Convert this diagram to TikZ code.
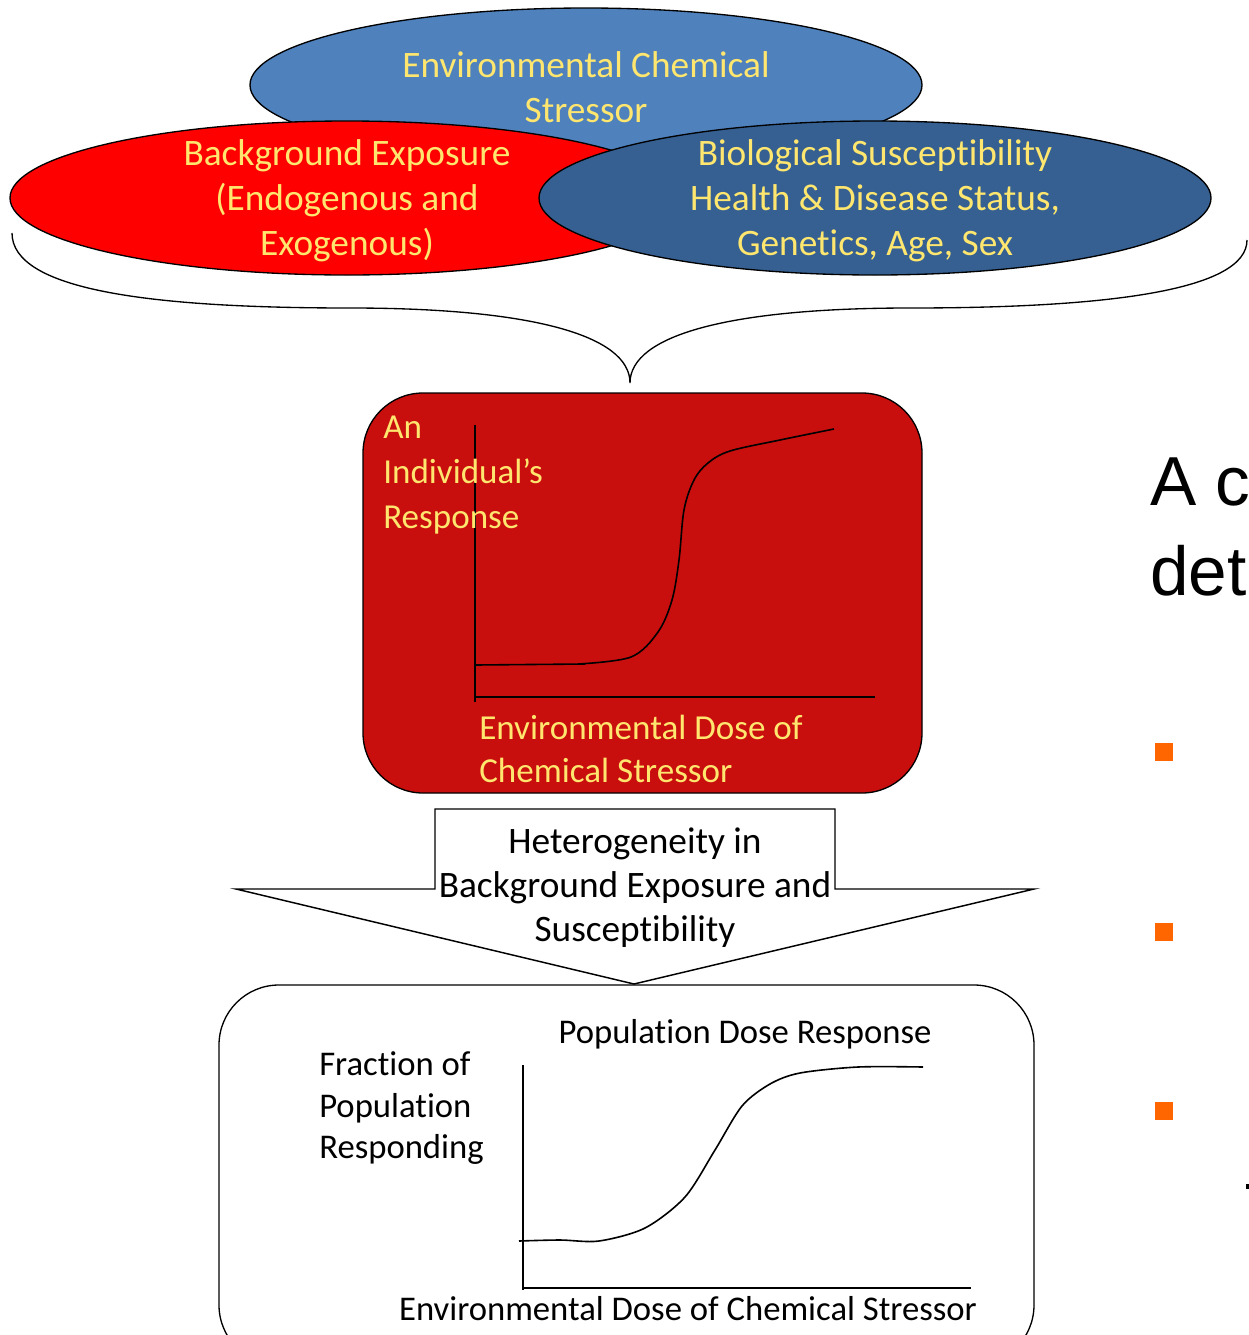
\documentclass[tikz,border=0pt]{standalone}
\usepackage{fontspec}
\setmainfont[Ligatures=NoCommon]{Carlito}
\newfontfamily\arialf{Liberation Sans}
\definecolor{topblue}{RGB}{79,129,189}
\definecolor{darkblue}{RGB}{54,96,146}
\definecolor{brightred}{RGB}{255,0,0}
\definecolor{boxred}{RGB}{201,14,14}
\definecolor{paleyellow}{RGB}{255,230,110}
\definecolor{bulletorange}{RGB}{255,102,0}
\tikzset{
  ell/.style={draw=black, line width=1pt},
  ytext/.style={text=paleyellow, font=\fontsize{28}{33.75}\selectfont, align=center, inner sep=0pt},
  ltext/.style={text=paleyellow, font=\fontsize{26.3}{33.5}\selectfont, align=left, inner sep=0pt, anchor=base west},
  btext/.style={text=black, font=\fontsize{26}{31.5}\selectfont, inner sep=0pt},
  axis/.style={draw=black, line width=1.2pt},
  curve/.style={draw=black, line width=1.2pt},
}
\begin{document}
\begin{tikzpicture}[x=0.75pt,y=-0.75pt]
\useasboundingbox (0,0) rectangle (1249,1335);
\clip (0,0) rectangle (1249,1335);
% ellipses
\path[ell, fill=topblue] (586,85) ellipse [x radius=336, y radius=77];
\node[ytext] (ecs) at (586,87) {Environmental Chemical\\Stressor};
\path[ell, fill=brightred] (347,198) ellipse [x radius=337, y radius=77];
\node[ytext] (bge) at (347,201) {Background Exposure\\(Endogenous and\\Exogenous)};
\path[ell, fill=darkblue] (875,198) ellipse [x radius=336, y radius=77];
\node[ytext] (bio) at (875,201) {Biological Susceptibility\\Health \& Disease Status,\\Genetics, Age, Sex};
% brace
\coordinate (bl) at (12,233);
\coordinate (btip) at (630,383);
\coordinate (br) at (1247,240);
\draw[line width=1pt] (bl) .. controls (12,290) and (150,308) .. (350,308)
  .. controls (530,308) and (630,335) .. (btip)
  .. controls (630,335) and (730,308) .. (910,308)
  .. controls (1110,308) and (1247,290) .. (br);
% red box
\node[draw=black, line width=1pt, fill=boxred, rounded corners=45pt, minimum width=559*0.75pt, minimum height=400*0.75pt] (ind) at (642.5,593) {};
\draw[axis] (475,425) -- (475,702);
\draw[axis] (475,697) -- (875,697);
\draw[curve] (475,665) -- (585,664);
\draw[curve] plot[smooth, tension=0.55] coordinates {(578,664) (631,657) (658,632) (672,600) (679,560) (684,510) (694,480) (708,463) (730,451) (780,440) (834,429)};
\node[ltext] (resp) at (383,438) {An};
\node[ltext] at (383,483) {Individual’s};
\node[ltext] at (383,528) {Response};
\node[ltext] (dose1) at (479,739) {Environmental Dose of};
\node[ltext] at (479,782) {Chemical Stressor};
% heterogeneity arrow
\draw[line width=1.1pt, fill=white] (435,809) -- (835,809) -- (835,889) -- (1034,889) -- (634,984) -- (236,889) -- (435,889) -- cycle;
\node[btext, font=\fontsize{28}{33}\selectfont, align=center] (het) at (635,888) {Heterogeneity in\\Background Exposure and\\Susceptibility};
% bottom box
\node[draw=black, line width=1pt, fill=white, rounded corners=45pt, minimum width=815*0.75pt, minimum height=380*0.75pt] (pop) at (626.5,1175) {};
\draw[axis] (523,1065) -- (523,1290);
\draw[axis] (523,1288) -- (971,1288);
\draw[curve] plot[smooth, tension=0.5] coordinates {(519,1241) (560,1240) (599,1241) (645,1228) (685,1197) (715,1150) (742,1106) (770,1084) (800,1073) (858,1067) (923,1067)};
\node[btext, anchor=base] (pdr) at (745,1043) {Population Dose Response};
\node[btext, anchor=base west] (frac) at (319,1075) {Fraction of};
\node[btext, anchor=base west] at (319,1117) {Population};
\node[btext, anchor=base west] at (319,1158) {Responding};
\node[btext, anchor=base] (dose2) at (688,1320) {Environmental Dose of Chemical Stressor};
% right side text
\node[font=\arialf\fontsize{52}{67}\selectfont, anchor=base west, inner sep=0pt] (ac) at (1150,505) {A c};
\node[font=\arialf\fontsize{52}{67}\selectfont, anchor=base west, inner sep=0pt] (det) at (1150,595) {det};
\fill[bulletorange] (1155,743) rectangle (1173,761);
\fill[bulletorange] (1155,923) rectangle (1173,941);
\fill[bulletorange] (1155,1102) rectangle (1173,1120);
\fill[black] (1246,1184) rectangle (1249,1189);
\end{tikzpicture}
\end{document}
